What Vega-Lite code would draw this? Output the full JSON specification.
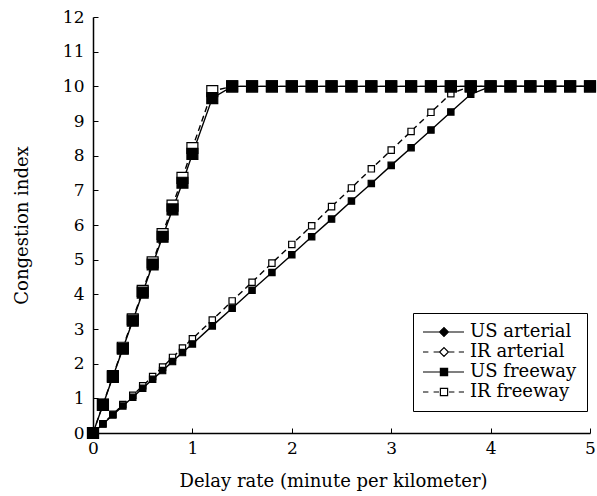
{
  "$schema": "https://vega.github.io/schema/vega-lite/v6.json",
  "width": 497,
  "height": 416,
  "autosize": {"type": "none"},
  "padding": {"left": 93, "top": 17, "right": 7, "bottom": 63},
  "background": "white",
  "config": {
    "view": {"stroke": null},
    "font": "DejaVu Serif",
    "axis": {
      "domainColor": "black",
      "domainWidth": 1.5,
      "tickColor": "black",
      "tickWidth": 1,
      "tickSize": -5,
      "labelColor": "black",
      "titleColor": "black",
      "labelFont": "DejaVu Serif",
      "titleFont": "DejaVu Serif",
      "labelFontSize": 17,
      "titleFontSize": 18,
      "titleFontWeight": "normal",
      "grid": false
    },
    "legend": {
      "title": null,
      "orient": "none",
      "legendX": 320,
      "legendY": 296,
      "padding": 10,
      "strokeColor": "black",
      "symbolSize": 64,
      "symbolOffset": 12,
      "symbolOpacity": 1,
      "symbolStrokeColor": "black",
      "symbolStrokeWidth": 1.2,
      "labelOffset": 17,
      "rowPadding": 2,
      "labelFont": "DejaVu Serif",
      "labelFontSize": 18,
      "labelColor": "black"
    }
  },
  "data": {
    "values": [
      {"series": "IR arterial", "x": 0, "y": 0},
      {"series": "IR arterial", "x": 0.1, "y": 0.27},
      {"series": "IR arterial", "x": 0.2, "y": 0.54},
      {"series": "IR arterial", "x": 0.3, "y": 0.82},
      {"series": "IR arterial", "x": 0.4, "y": 1.09},
      {"series": "IR arterial", "x": 0.5, "y": 1.36},
      {"series": "IR arterial", "x": 0.6, "y": 1.63},
      {"series": "IR arterial", "x": 0.7, "y": 1.9},
      {"series": "IR arterial", "x": 0.8, "y": 2.18},
      {"series": "IR arterial", "x": 0.9, "y": 2.45},
      {"series": "IR arterial", "x": 1.0, "y": 2.72},
      {"series": "IR arterial", "x": 1.2, "y": 3.26},
      {"series": "IR arterial", "x": 1.4, "y": 3.81},
      {"series": "IR arterial", "x": 1.6, "y": 4.35},
      {"series": "IR arterial", "x": 1.8, "y": 4.9},
      {"series": "IR arterial", "x": 2.0, "y": 5.44},
      {"series": "IR arterial", "x": 2.2, "y": 5.98},
      {"series": "IR arterial", "x": 2.4, "y": 6.53},
      {"series": "IR arterial", "x": 2.6, "y": 7.07},
      {"series": "IR arterial", "x": 2.8, "y": 7.62},
      {"series": "IR arterial", "x": 3.0, "y": 8.16},
      {"series": "IR arterial", "x": 3.2, "y": 8.7},
      {"series": "IR arterial", "x": 3.4, "y": 9.25},
      {"series": "IR arterial", "x": 3.6, "y": 9.79},
      {"series": "IR arterial", "x": 3.8, "y": 10},
      {"series": "IR arterial", "x": 4.0, "y": 10},
      {"series": "IR arterial", "x": 4.2, "y": 10},
      {"series": "IR arterial", "x": 4.4, "y": 10},
      {"series": "IR arterial", "x": 4.6, "y": 10},
      {"series": "IR arterial", "x": 4.8, "y": 10},
      {"series": "IR arterial", "x": 5.0, "y": 10},
      {"series": "US arterial", "x": 0, "y": 0},
      {"series": "US arterial", "x": 0.1, "y": 0.26},
      {"series": "US arterial", "x": 0.2, "y": 0.52},
      {"series": "US arterial", "x": 0.3, "y": 0.78},
      {"series": "US arterial", "x": 0.4, "y": 1.03},
      {"series": "US arterial", "x": 0.5, "y": 1.29},
      {"series": "US arterial", "x": 0.6, "y": 1.55},
      {"series": "US arterial", "x": 0.7, "y": 1.8},
      {"series": "US arterial", "x": 0.8, "y": 2.06},
      {"series": "US arterial", "x": 0.9, "y": 2.32},
      {"series": "US arterial", "x": 1.0, "y": 2.57},
      {"series": "US arterial", "x": 1.2, "y": 3.09},
      {"series": "US arterial", "x": 1.4, "y": 3.6},
      {"series": "US arterial", "x": 1.6, "y": 4.12},
      {"series": "US arterial", "x": 1.8, "y": 4.63},
      {"series": "US arterial", "x": 2.0, "y": 5.14},
      {"series": "US arterial", "x": 2.2, "y": 5.66},
      {"series": "US arterial", "x": 2.4, "y": 6.17},
      {"series": "US arterial", "x": 2.6, "y": 6.69},
      {"series": "US arterial", "x": 2.8, "y": 7.2},
      {"series": "US arterial", "x": 3.0, "y": 7.72},
      {"series": "US arterial", "x": 3.2, "y": 8.23},
      {"series": "US arterial", "x": 3.4, "y": 8.74},
      {"series": "US arterial", "x": 3.6, "y": 9.26},
      {"series": "US arterial", "x": 3.8, "y": 9.77},
      {"series": "US arterial", "x": 4.0, "y": 10},
      {"series": "US arterial", "x": 4.2, "y": 10},
      {"series": "US arterial", "x": 4.4, "y": 10},
      {"series": "US arterial", "x": 4.6, "y": 10},
      {"series": "US arterial", "x": 4.8, "y": 10},
      {"series": "US arterial", "x": 5.0, "y": 10},
      {"series": "IR freeway", "x": 0, "y": 0},
      {"series": "IR freeway", "x": 0.1, "y": 0.82},
      {"series": "IR freeway", "x": 0.2, "y": 1.64},
      {"series": "IR freeway", "x": 0.3, "y": 2.46},
      {"series": "IR freeway", "x": 0.4, "y": 3.28},
      {"series": "IR freeway", "x": 0.5, "y": 4.1},
      {"series": "IR freeway", "x": 0.6, "y": 4.92},
      {"series": "IR freeway", "x": 0.7, "y": 5.74},
      {"series": "IR freeway", "x": 0.8, "y": 6.56},
      {"series": "IR freeway", "x": 0.9, "y": 7.36},
      {"series": "IR freeway", "x": 1.0, "y": 8.22},
      {"series": "IR freeway", "x": 1.2, "y": 9.86},
      {"series": "IR freeway", "x": 1.4, "y": 10},
      {"series": "IR freeway", "x": 1.6, "y": 10},
      {"series": "IR freeway", "x": 1.8, "y": 10},
      {"series": "IR freeway", "x": 2.0, "y": 10},
      {"series": "IR freeway", "x": 2.2, "y": 10},
      {"series": "IR freeway", "x": 2.4, "y": 10},
      {"series": "IR freeway", "x": 2.6, "y": 10},
      {"series": "IR freeway", "x": 2.8, "y": 10},
      {"series": "IR freeway", "x": 3.0, "y": 10},
      {"series": "IR freeway", "x": 3.2, "y": 10},
      {"series": "IR freeway", "x": 3.4, "y": 10},
      {"series": "IR freeway", "x": 3.6, "y": 10},
      {"series": "IR freeway", "x": 3.8, "y": 10},
      {"series": "IR freeway", "x": 4.0, "y": 10},
      {"series": "IR freeway", "x": 4.2, "y": 10},
      {"series": "IR freeway", "x": 4.4, "y": 10},
      {"series": "IR freeway", "x": 4.6, "y": 10},
      {"series": "IR freeway", "x": 4.8, "y": 10},
      {"series": "IR freeway", "x": 5.0, "y": 10},
      {"series": "US freeway", "x": 0, "y": 0},
      {"series": "US freeway", "x": 0.1, "y": 0.81},
      {"series": "US freeway", "x": 0.2, "y": 1.62},
      {"series": "US freeway", "x": 0.3, "y": 2.43},
      {"series": "US freeway", "x": 0.4, "y": 3.24},
      {"series": "US freeway", "x": 0.5, "y": 4.05},
      {"series": "US freeway", "x": 0.6, "y": 4.86},
      {"series": "US freeway", "x": 0.7, "y": 5.66},
      {"series": "US freeway", "x": 0.8, "y": 6.45},
      {"series": "US freeway", "x": 0.9, "y": 7.22},
      {"series": "US freeway", "x": 1.0, "y": 8.05},
      {"series": "US freeway", "x": 1.2, "y": 9.66},
      {"series": "US freeway", "x": 1.4, "y": 10},
      {"series": "US freeway", "x": 1.6, "y": 10},
      {"series": "US freeway", "x": 1.8, "y": 10},
      {"series": "US freeway", "x": 2.0, "y": 10},
      {"series": "US freeway", "x": 2.2, "y": 10},
      {"series": "US freeway", "x": 2.4, "y": 10},
      {"series": "US freeway", "x": 2.6, "y": 10},
      {"series": "US freeway", "x": 2.8, "y": 10},
      {"series": "US freeway", "x": 3.0, "y": 10},
      {"series": "US freeway", "x": 3.2, "y": 10},
      {"series": "US freeway", "x": 3.4, "y": 10},
      {"series": "US freeway", "x": 3.6, "y": 10},
      {"series": "US freeway", "x": 3.8, "y": 10},
      {"series": "US freeway", "x": 4.0, "y": 10},
      {"series": "US freeway", "x": 4.2, "y": 10},
      {"series": "US freeway", "x": 4.4, "y": 10},
      {"series": "US freeway", "x": 4.6, "y": 10},
      {"series": "US freeway", "x": 4.8, "y": 10},
      {"series": "US freeway", "x": 5.0, "y": 10}
    ]
  },
  "encoding": {
    "x": {
      "field": "x",
      "type": "quantitative",
      "scale": {"domain": [0, 5], "nice": false},
      "axis": {
        "values": [0, 1, 2, 3, 4, 5],
        "labelPadding": 12,
        "labelFlush": false,
        "title": "Delay rate (minute per kilometer)",
        "titleX": 240,
        "titleAlign": "center",
        "titleY": 48,
        "titleBaseline": "middle"
      }
    },
    "y": {
      "field": "y",
      "type": "quantitative",
      "scale": {"domain": [0, 12], "nice": false},
      "axis": {
        "values": [0, 1, 2, 3, 4, 5, 6, 7, 8, 9, 10, 11, 12],
        "labelPadding": 14,
        "title": "Congestion index",
        "titleX": -71,
        "titleBaseline": "middle"
      }
    }
  },
  "layer": [
    {
      "transform": [{"filter": "indexof(datum.series, 'US') === 0"}],
      "mark": {"type": "line", "color": "black", "strokeWidth": 1.4},
      "encoding": {"detail": {"field": "series", "type": "nominal"}}
    },
    {
      "transform": [{"filter": "indexof(datum.series, 'IR') === 0"}],
      "mark": {"type": "line", "color": "black", "strokeWidth": 1.4, "strokeDash": [6, 4]},
      "encoding": {"detail": {"field": "series", "type": "nominal"}}
    },
    {
      "transform": [{"filter": "indexof(datum.series, 'arterial') >= 0"}],
      "mark": {"type": "point", "shape": "square", "filled": true, "stroke": "black", "strokeWidth": 1.2, "opacity": 1, "size": 40},
      "encoding": {
        "fill": {
          "condition": {"test": "indexof(datum.series, 'US') === 0", "value": "black"},
          "value": "white"
        }
      }
    },
    {
      "transform": [{"filter": "indexof(datum.series, 'freeway') >= 0"}],
      "mark": {"type": "point", "shape": "square", "filled": true, "stroke": "black", "strokeWidth": 1.2, "opacity": 1, "size": 120},
      "encoding": {
        "fill": {
          "condition": {"test": "indexof(datum.series, 'US') === 0", "value": "black"},
          "value": "white"
        }
      }
    },
    {
      "mark": {"type": "point", "filled": true, "strokeWidth": 1.2, "opacity": 0, "size": 64},
      "encoding": {
        "shape": {
          "field": "series",
          "type": "nominal",
          "scale": {
            "domain": ["US arterial", "IR arterial", "US freeway", "IR freeway"],
            "range": [
              "M-5.25,0H-1.1M1.1,0H5M-1.1,0L0,-1.1L1.1,0L0,1.1Z",
              "M-5.25,0H-3.9M-2.6,0H-1.25M1.25,0H2.6M3.7,0H5M-1.1,0L0,-1.1L1.1,0L0,1.1Z",
              "M-5.25,0H-0.9M0.9,0H5M-0.9,-0.9H0.9V0.9H-0.9Z",
              "M-5.25,0H-3.9M-2.6,0H-1.25M1.25,0H2.6M3.7,0H5M-0.9,-0.9H0.9V0.9H-0.9Z"
            ]
          },
          "legend": {}
        },
        "fill": {
          "field": "series",
          "type": "nominal",
          "scale": {
            "domain": ["US arterial", "IR arterial", "US freeway", "IR freeway"],
            "range": ["black", "white", "black", "white"]
          },
          "legend": {}
        },
        "stroke": {
          "field": "series",
          "type": "nominal",
          "scale": {
            "domain": ["US arterial", "IR arterial", "US freeway", "IR freeway"],
            "range": ["black", "black", "black", "black"]
          },
          "legend": {}
        }
      }
    }
  ]
}
